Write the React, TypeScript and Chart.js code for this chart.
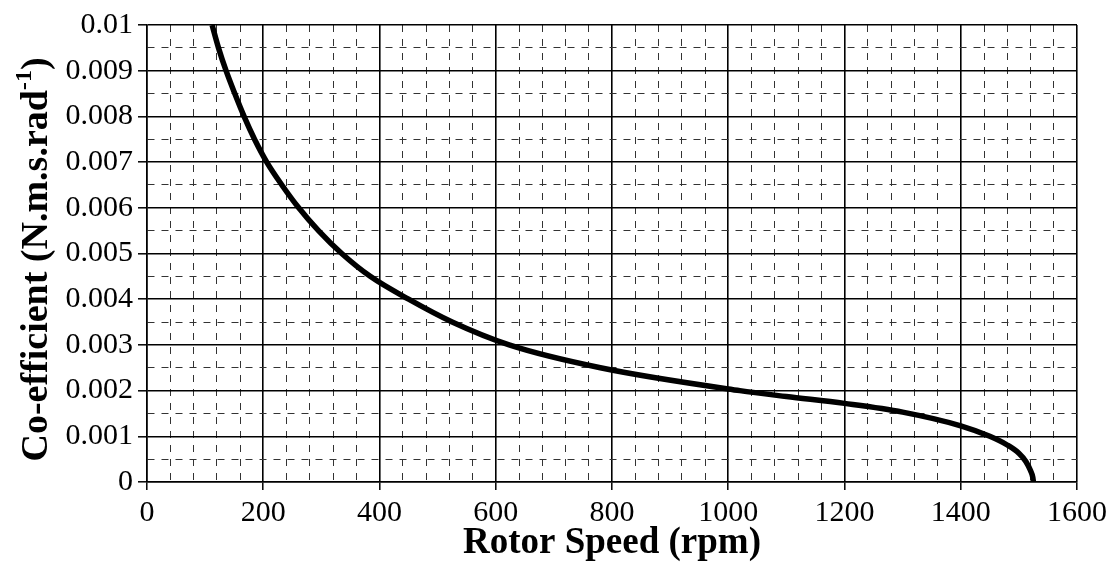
import React, { useEffect, useRef } from "react";
import { Chart, registerables } from "chart.js";

Chart.register(...registerables);

// Rotor speed (rpm) and damping co-efficient (N.m.s/rad)
const rotorSpeed = [112, 123, 136, 151, 167, 185, 206, 232, 261, 295, 335, 384, 450, 525, 623, 780, 1020, 1100, 1200, 1300, 1400, 1450, 1480, 1500, 1512, 1520, 1524, 1525];
const coefficient = [0.01, 0.0095, 0.009, 0.0085, 0.008, 0.0075, 0.007, 0.0065, 0.006, 0.0055, 0.005, 0.0045, 0.004, 0.0035, 0.003, 0.0025, 0.002, 0.00187, 0.00172, 0.00153, 0.00123, 0.001, 0.00081, 0.00063, 0.00045, 0.00025, 0.0001, 0];

const xMin = 0, xMax = 1600, xMajor = 200, xMinor = 40;
const yMin = 0, yMax = 0.01, yMajorUnits = 10, yMinor = 0.0005; // units of 1e-4

const xTitle = "Rotor Speed (rpm)";
const yTitleMain = "Co-efficient (N.m.s.rad";
const yTitleSup = "-1";
const yTitleEnd = ")";

const FONT = "'Liberation Serif', 'Times New Roman', serif";

const isXMajor = (v: number) => Math.round(v) % xMajor === 0;
const isYMajor = (v: number) => Math.round(v * 10000) % yMajorUnits === 0;

const yTitlePlugin = {
  id: "yTitleSup",
  afterDraw(chart: any) {
    const ctx = chart.ctx;
    const size = 38;
    const supSize = 24;
    ctx.save();
    ctx.fillStyle = "#000";
    ctx.textBaseline = "alphabetic";
    ctx.textAlign = "left";
    ctx.font = `bold ${size}px ${FONT}`;
    const w1 = ctx.measureText(yTitleMain).width;
    const w3 = ctx.measureText(yTitleEnd).width;
    ctx.font = `bold ${supSize}px ${FONT}`;
    const w2 = ctx.measureText(yTitleSup).width;
    const total = w1 + w2 + w3;
    const cy = (chart.chartArea.top + chart.chartArea.bottom) / 2 + 6;
    ctx.translate(47, cy);
    ctx.rotate(-Math.PI / 2);
    let x = -total / 2;
    ctx.font = `bold ${size}px ${FONT}`;
    ctx.fillText(yTitleMain, x, 0);
    x += w1;
    ctx.font = `bold ${supSize}px ${FONT}`;
    ctx.fillText(yTitleSup, x, -size * 0.42);
    x += w2;
    ctx.font = `bold ${size}px ${FONT}`;
    ctx.fillText(yTitleEnd, x, 0);
    ctx.restore();
  },
};

export default function App() {
  const ref = useRef<HTMLCanvasElement | null>(null);

  useEffect(() => {
    if (!ref.current) return;
    const points = rotorSpeed.map((x, i) => ({ x, y: coefficient[i] }));
    const chart = new Chart(ref.current, {
      type: "line",
      data: {
        datasets: [
          {
            data: points,
            borderColor: "#000",
            borderWidth: 5.5,
            pointRadius: 0,
            fill: false,
            cubicInterpolationMode: "monotone",
          },
        ],
      },
      options: {
        animation: false,
        responsive: false,
        events: [],
        layout: { padding: { left: 0, top: 25, right: 37, bottom: 0 } },
        plugins: { legend: { display: false }, tooltip: { enabled: false } },
        scales: {
          x: {
            type: "linear",
            min: xMin,
            max: xMax,
            afterFit: (s: any) => { s.height = 85; },
            ticks: {
              stepSize: xMinor,
              autoSkip: false,
              maxRotation: 0,
              padding: 5,
              color: "#000",
              font: { family: FONT, size: 30 },
              callback: (v: any) => (isXMajor(Number(v)) ? String(Math.round(Number(v))) : ""),
            },
            grid: {
              color: (c: any) => (c.tick && isXMajor(c.tick.value) ? "#000" : "#333"),
              lineWidth: (c: any) => (c.tick && isXMajor(c.tick.value) ? 1.6 : 1),
              tickColor: (c: any) => (c.tick && isXMajor(c.tick.value) ? "#000" : "rgba(0,0,0,0)"),
              tickLength: 8,
              tickWidth: 1.5,
              tickBorderDash: [],
            },
            border: {
              display: true,
              color: "#000",
              width: 1.5,
              dash: (c: any) => (c.tick && !isXMajor(c.tick.value) ? [7, 7] : []),
            },
            title: {
              display: true,
              text: xTitle,
              color: "#000",
              font: { family: FONT, size: 37, weight: "bold" },
              padding: { top: 0, bottom: 1 },
            },
          },
          y: {
            type: "linear",
            min: yMin,
            max: yMax,
            afterFit: (s: any) => { s.width = 147; },
            ticks: {
              stepSize: yMinor,
              autoSkip: false,
              padding: 5,
              color: "#000",
              font: { family: FONT, size: 30 },
              callback: (v: any) => {
                const k = Math.round(Number(v) * 10000);
                if (k % yMajorUnits !== 0) return "";
                return k === 0 ? "0" : String(k / 10000);
              },
            },
            grid: {
              color: (c: any) => (c.tick && isYMajor(c.tick.value) ? "#000" : "#333"),
              lineWidth: (c: any) => (c.tick && isYMajor(c.tick.value) ? 1.6 : 1),
              tickColor: (c: any) => (c.tick && isYMajor(c.tick.value) ? "#000" : "rgba(0,0,0,0)"),
              tickLength: 9,
              tickWidth: 1.5,
              tickBorderDash: [],
            },
            border: {
              display: true,
              color: "#000",
              width: 1.5,
              dash: (c: any) => (c.tick && !isYMajor(c.tick.value) ? [7, 7] : []),
            },
          },
        },
      } as any,
      plugins: [yTitlePlugin],
    });
    return () => chart.destroy();
  }, []);

  return (
    <div style={{ position: "absolute", left: 0, top: 0, width: 1114, height: 567, background: "#fff" }}>
      <canvas ref={ref} width={1114} height={567} />
    </div>
  );
}
